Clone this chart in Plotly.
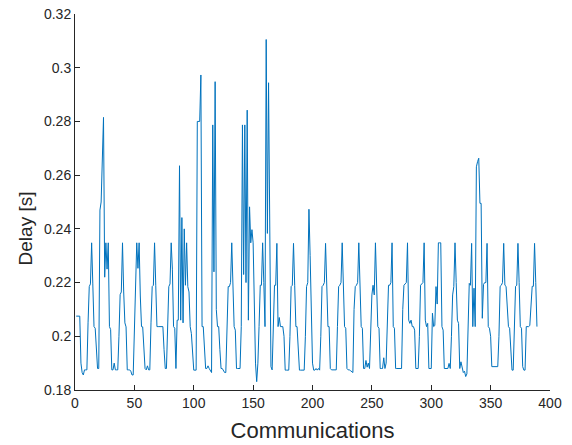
import plotly.graph_objects as go

# Delay values (s) per communication
delay = [
    0.2075, 0.2075, 0.2075, 0.2075, 0.1900, 0.1865, 0.1856, 0.1875, 0.1875, 0.1875,
    0.2050, 0.2185, 0.2195, 0.2348, 0.2195, 0.2036, 0.2030, 0.1950, 0.1880, 0.1880,
    0.2470, 0.2500, 0.2650, 0.2815, 0.2220, 0.2348, 0.2250, 0.2348, 0.2036, 0.2025,
    0.1875, 0.1875, 0.1900, 0.1875, 0.1875, 0.1875, 0.2000, 0.2155, 0.2165, 0.2348,
    0.2165, 0.2050, 0.2035, 0.1875, 0.1875, 0.1875, 0.1870, 0.1856, 0.1856, 0.2000,
    0.2150, 0.2348, 0.2253, 0.2348, 0.2150, 0.2036, 0.2035, 0.1960, 0.1880, 0.1875,
    0.1890, 0.1875, 0.1875, 0.2050, 0.2185, 0.2190, 0.2348, 0.2190, 0.2036, 0.2036,
    0.2036, 0.2036, 0.2036, 0.2036, 0.1950, 0.1880, 0.1880, 0.2030, 0.2185, 0.2195,
    0.2348, 0.2250, 0.2036, 0.2030, 0.1880, 0.2060, 0.2060, 0.2635, 0.2060, 0.2442,
    0.2050, 0.2400, 0.2190, 0.2348, 0.2185, 0.2165, 0.2036, 0.2010, 0.1950, 0.1874,
    0.1874, 0.1874, 0.2800, 0.2800, 0.2800, 0.2973, 0.2036, 0.2036, 0.1950, 0.1880,
    0.1880, 0.1890, 0.1880, 0.1870, 0.1865, 0.2787, 0.2240, 0.2948, 0.2100, 0.2036,
    0.2036, 0.1950, 0.1880, 0.1880, 0.1870, 0.1865, 0.1865, 0.1990, 0.2185, 0.2185,
    0.2200, 0.2348, 0.2190, 0.2036, 0.2023, 0.1880, 0.1880, 0.1880, 0.1880, 0.2036,
    0.2787, 0.2230, 0.2787, 0.2200, 0.2842, 0.2060, 0.2482, 0.2348, 0.2397, 0.2348,
    0.2036, 0.1900, 0.1831, 0.1900, 0.2036, 0.2190, 0.2190, 0.2348, 0.2200, 0.2036,
    0.3105, 0.2383, 0.2944, 0.2200, 0.1887, 0.1875, 0.2036, 0.2190, 0.2190, 0.2346,
    0.2036, 0.2070, 0.2036, 0.2036, 0.2036, 0.2000, 0.1874, 0.1874, 0.1874, 0.1874,
    0.2000, 0.2185, 0.2190, 0.2346, 0.2190, 0.2036, 0.2036, 0.1950, 0.1874, 0.1874,
    0.1874, 0.1874, 0.1874, 0.2000, 0.2185, 0.2200, 0.2473, 0.2300, 0.2100, 0.1900,
    0.1874, 0.1874, 0.1880, 0.1874, 0.1880, 0.1874, 0.2000, 0.2185, 0.2190, 0.2200,
    0.2346, 0.2190, 0.2036, 0.2036, 0.1880, 0.1875, 0.1875, 0.1875, 0.1875, 0.1875,
    0.2036, 0.2185, 0.2190, 0.2200, 0.2348, 0.2190, 0.2036, 0.2030, 0.1880, 0.1875,
    0.1875, 0.1872, 0.1868, 0.1865, 0.2100, 0.2185, 0.2190, 0.2200, 0.2348, 0.2185,
    0.2036, 0.2030, 0.1880, 0.1880, 0.1910, 0.1885, 0.1900, 0.1880, 0.2050, 0.2154,
    0.2190, 0.2154, 0.2348, 0.2185, 0.2036, 0.2030, 0.1880, 0.1880, 0.1880, 0.1920,
    0.1880, 0.1900, 0.2050, 0.2190, 0.2190, 0.2200, 0.2348, 0.2036, 0.2030, 0.1880,
    0.1880, 0.1880, 0.1880, 0.1880, 0.1880, 0.2100, 0.2190, 0.2195, 0.2200, 0.2348,
    0.2060, 0.2048, 0.2060, 0.2036, 0.2036, 0.2023, 0.1880, 0.1880, 0.1880, 0.2000,
    0.2190, 0.2195, 0.2200, 0.2348, 0.2060, 0.2036, 0.2048, 0.1880, 0.1880, 0.1880,
    0.2086, 0.2036, 0.2040, 0.2185, 0.2120, 0.2348, 0.2348, 0.2348, 0.2036, 0.2023,
    0.1880, 0.1880, 0.1880, 0.1880, 0.1899, 0.1880, 0.2000, 0.2154, 0.2185, 0.2348,
    0.2200, 0.2060, 0.2048, 0.1880, 0.1905, 0.1880, 0.1865, 0.1870, 0.1850, 0.1860,
    0.1990, 0.2197, 0.2190, 0.2346, 0.2036, 0.2179, 0.2036, 0.2631, 0.2650, 0.2663,
    0.2495, 0.2495, 0.2067, 0.2193, 0.2200, 0.2200, 0.2346, 0.2036, 0.2030, 0.2000,
    0.1887, 0.1887, 0.1887, 0.1887, 0.1887, 0.1887, 0.2000, 0.2186, 0.2190, 0.2200,
    0.2346, 0.2190, 0.2186, 0.2100, 0.2036, 0.2030, 0.1950, 0.1874, 0.1874, 0.2050,
    0.2186, 0.2190, 0.2346, 0.2200, 0.2036, 0.2030, 0.1887, 0.1874, 0.1874, 0.2036,
    0.2036, 0.2036, 0.2040, 0.2100, 0.2186, 0.2186, 0.2346, 0.2200, 0.2036,
]
communications = list(range(1, len(delay) + 1))

x_ticks = [0, 50, 100, 150, 200, 250, 300, 350, 400]
y_ticks = [0.18, 0.2, 0.22, 0.24, 0.26, 0.28, 0.3, 0.32]
y_tick_text = ["0.18", "0.2", "0.22", "0.24", "0.26", "0.28", "0.3", "0.32"]

AX = "#262626"
FONT = "Liberation Sans, Arial, Helvetica, sans-serif"

fig = go.Figure(
    go.Scatter(
        x=communications, y=delay, mode="lines",
        line=dict(color="#0072BD", width=1),
        hoverinfo="x+y",
    )
)

fig.update_layout(
    width=572, height=445,
    margin=dict(l=75, r=22, t=14, b=55),
    paper_bgcolor="white", plot_bgcolor="white",
    showlegend=False,
    font=dict(family=FONT, color=AX, size=14),
    annotations=[dict(
        text="Delay [s]", textangle=-90, showarrow=False,
        xref="paper", yref="paper", x=-0.105, y=0.43,
        xanchor="center", yanchor="middle",
        font=dict(size=19, color=AX),
    )],
)
fig.update_xaxes(
    range=[0, 400], tickvals=x_ticks, ticktext=[str(v) for v in x_ticks],
    showgrid=False, zeroline=False, automargin=False,
    showline=True, linecolor=AX, linewidth=1,
    ticks="inside", ticklen=5, tickcolor=AX, tickwidth=1,
    tickfont=dict(size=14, color=AX), ticklabeloverflow="allow",
    title=dict(text="Communications", font=dict(size=22, color=AX), standoff=12),
)
fig.update_yaxes(
    range=[0.18, 0.32], tickvals=y_ticks, ticktext=y_tick_text,
    showgrid=False, zeroline=False, automargin=False,
    showline=True, linecolor=AX, linewidth=1,
    ticks="inside", ticklen=5, tickcolor=AX, tickwidth=1,
    tickfont=dict(size=14, color=AX), ticklabeloverflow="allow",
)

# remove the default page margin so the 572x445 figure fills the window
fig.write_html(
    "out.html",
    config={"displayModeBar": False},
    post_script="document.body.style.margin='0';",
)
